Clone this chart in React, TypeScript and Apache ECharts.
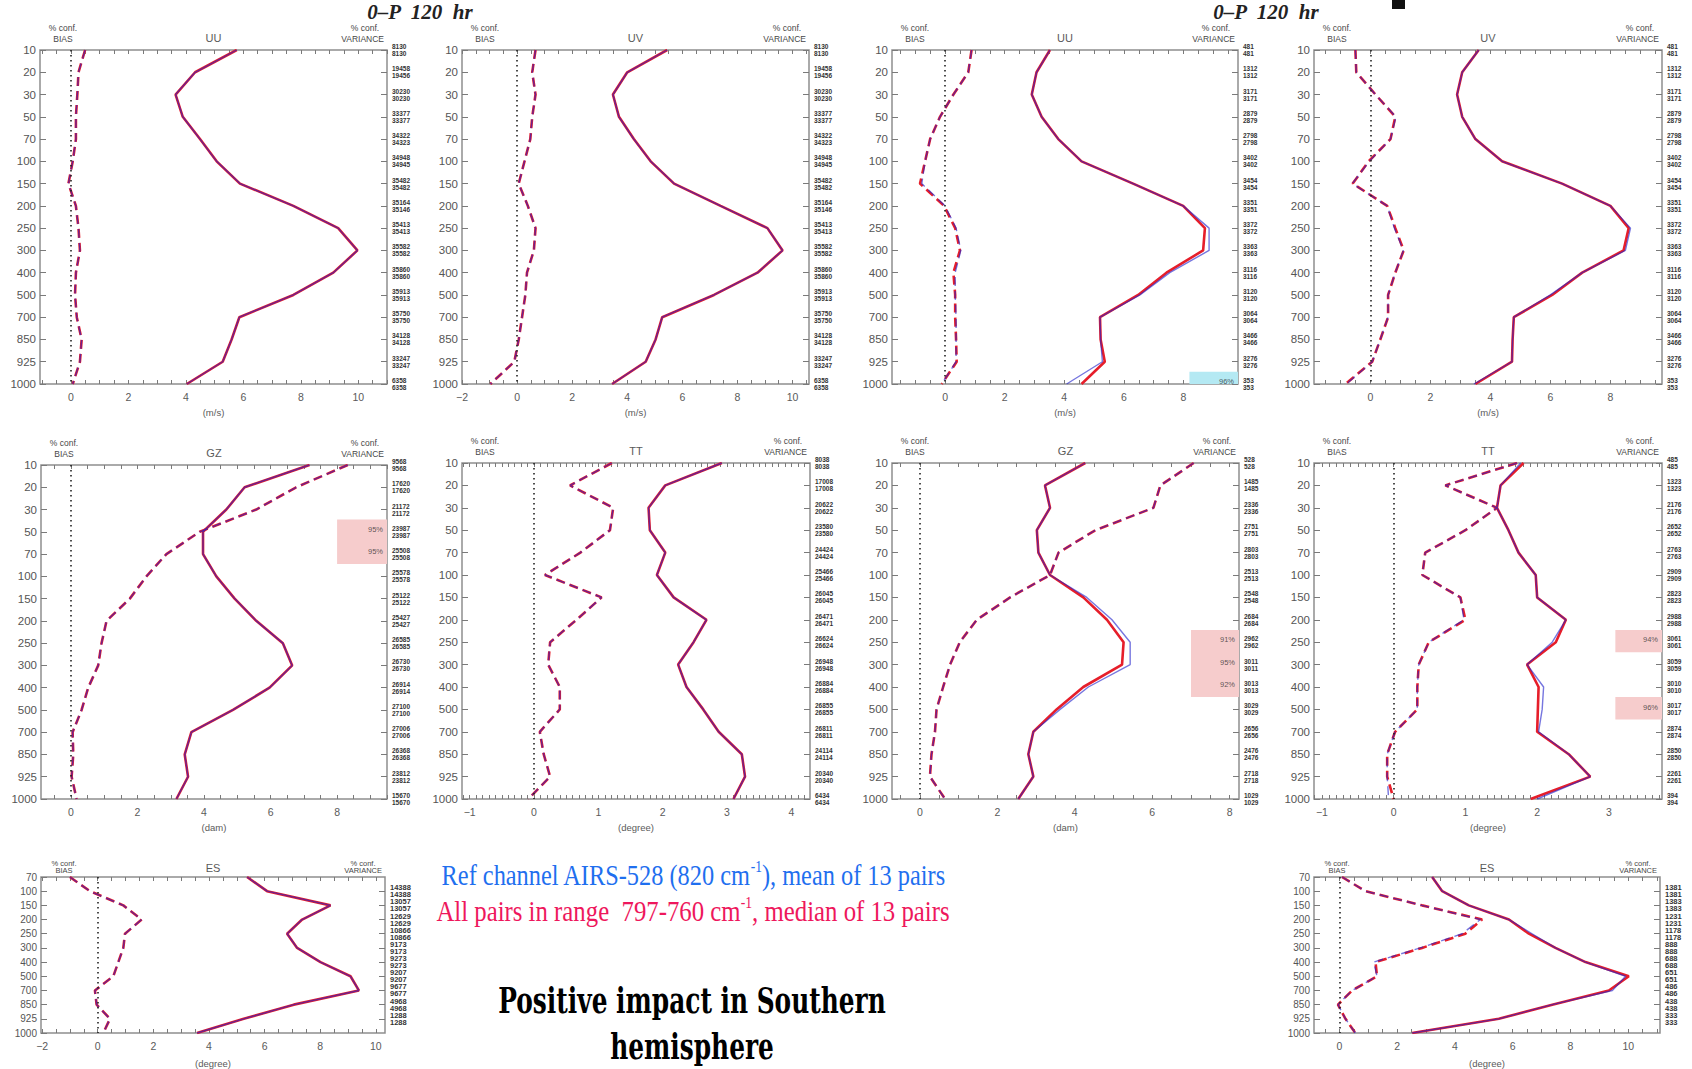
import React, { useEffect, useRef } from 'react';
import * as echarts from 'echarts';

// Pressure levels (hPa), equally spaced on the vertical axis
const LEVELS = ['10', '20', '30', '50', '70', '100', '150', '200', '250', '300', '400', '500', '700', '850', '925', '1000'];
const ES_LEVELS = ['70', '100', '150', '200', '250', '300', '400', '500', '700', '850', '925', '1000'];

// ---- left block (two experiments nearly identical) ----
const uuVarL = [5.77, 4.32, 3.64, 3.89, 4.49, 5.07, 5.88, 7.74, 9.3, 9.97, 9.13, 7.74, 5.86, 5.59, 5.28, 4.03];
const uuBiasL = [0.49, 0.26, 0.22, 0.17, 0.17, 0.06, -0.09, 0.17, 0.26, 0.31, 0.17, 0.14, 0.2, 0.37, 0.31, 0.06];
const uvVarL = [5.45, 4.0, 3.48, 3.7, 4.24, 4.85, 5.7, 7.39, 9.09, 9.64, 8.73, 7.15, 5.27, 5.03, 4.67, 3.45];
const uvBiasL = [0.67, 0.55, 0.67, 0.55, 0.48, 0.27, 0.06, 0.39, 0.67, 0.61, 0.36, 0.3, 0.18, 0.06, -0.1, -0.97];
const gzVarL = [7.17, 5.22, 4.67, 3.97, 3.97, 4.37, 4.92, 5.57, 6.37, 6.65, 5.97, 4.87, 3.62, 3.42, 3.52, 3.17];
const gzBiasL = [8.32, 6.77, 5.57, 3.87, 2.87, 2.27, 1.77, 1.07, 0.92, 0.82, 0.52, 0.32, 0.05, 0.07, 0.02, 0.17];
const ttVarL = [2.92, 2.04, 1.78, 1.8, 2.04, 1.91, 2.17, 2.68, 2.48, 2.24, 2.37, 2.63, 2.87, 3.23, 3.28, 3.1];
const ttBiasL = [1.21, 0.56, 1.23, 1.18, 0.72, 0.17, 1.05, 0.66, 0.25, 0.22, 0.4, 0.4, 0.09, 0.15, 0.25, -0.09];
const esVarL = [5.37, 6.09, 8.37, 7.35, 6.81, 7.17, 8.01, 9.09, 9.39, 7.05, 5.25, 3.57];
const esBiasL = [-1.0, -0.28, 0.92, 1.58, 0.98, 0.92, 0.74, 0.56, -0.1, -0.04, 0.44, 0.2];

// ---- right block: red = all pairs (median), blue = reference channel (mean) ----
const uuVarRRed = [3.52, 3.07, 2.91, 3.24, 3.8, 4.58, 6.31, 7.99, 8.72, 8.66, 7.43, 6.48, 5.2, 5.22, 5.36, 4.58];
const uuVarRBlue = [3.52, 3.07, 2.91, 3.24, 3.8, 4.58, 6.31, 7.99, 8.86, 8.86, 7.54, 6.54, 5.2, 5.22, 5.28, 4.08];
const uuBiasRRed = [0.89, 0.78, 0.28, -0.17, -0.5, -0.67, -0.84, -0.03, 0.34, 0.5, 0.28, 0.34, 0.34, 0.37, 0.39, -0.11];
const uuBiasRBlue = [0.89, 0.78, 0.28, -0.17, -0.5, -0.67, -0.78, 0.0, 0.37, 0.53, 0.34, 0.34, 0.37, 0.37, 0.37, -0.11];
const uvVarRRed = [3.61, 3.06, 2.89, 3.06, 3.5, 4.39, 6.39, 8.0, 8.61, 8.44, 7.06, 6.06, 4.78, 4.74, 4.72, 3.5];
const uvVarRBlue = [3.61, 3.06, 2.89, 3.06, 3.5, 4.39, 6.39, 8.0, 8.67, 8.5, 7.06, 6.0, 4.78, 4.74, 4.72, 3.45];
const uvBiasRRed = [-0.5, -0.47, 0.17, 0.83, 0.67, -0.06, -0.59, 0.56, 0.83, 1.11, 0.83, 0.59, 0.59, 0.33, 0.06, -0.83];
const uvBiasRBlue = [-0.5, -0.47, 0.17, 0.85, 0.67, -0.04, -0.6, 0.56, 0.8, 1.1, 0.83, 0.59, 0.59, 0.33, 0.06, -0.8];
const gzVarRRed = [4.27, 3.23, 3.36, 3.02, 3.06, 3.36, 4.22, 4.83, 5.26, 5.22, 4.22, 3.53, 2.93, 2.8, 2.93, 2.54];
const gzVarRBlue = [4.27, 3.23, 3.36, 3.02, 3.06, 3.36, 4.31, 4.96, 5.43, 5.43, 4.35, 3.62, 2.93, 2.8, 2.93, 2.54];
const gzBiasR = [7.07, 6.21, 6.03, 4.53, 3.58, 3.36, 2.33, 1.47, 1.03, 0.78, 0.6, 0.43, 0.39, 0.3, 0.26, 0.65];
const ttVarRRed = [1.81, 1.49, 1.44, 1.6, 1.74, 1.98, 2.0, 2.4, 2.26, 1.86, 2.02, 2.01, 2.0, 2.44, 2.74, 1.91];
const ttVarRBlue = [1.77, 1.49, 1.44, 1.6, 1.74, 1.98, 2.0, 2.4, 2.21, 1.86, 2.09, 2.07, 2.02, 2.44, 2.74, 2.0];
const ttBiasRRed = [1.72, 0.72, 1.44, 1.0, 0.44, 0.4, 0.93, 1.0, 0.49, 0.35, 0.33, 0.33, 0.02, -0.09, -0.09, 0.0];
const ttBiasRBlue = [1.72, 0.72, 1.44, 1.0, 0.44, 0.4, 0.93, 0.98, 0.49, 0.35, 0.33, 0.33, 0.02, -0.09, -0.09, -0.07];
const esVarRRed = [3.21, 3.56, 4.48, 5.87, 6.56, 7.48, 8.52, 10.02, 9.33, 7.37, 5.52, 2.52];
const esVarRBlue = [3.21, 3.56, 4.48, 5.87, 6.67, 7.48, 8.52, 9.91, 9.45, 7.37, 5.52, 2.52];
const esBiasRRed = [0.09, 0.9, 2.86, 4.94, 4.36, 2.86, 1.25, 1.3, 0.44, -0.05, 0.21, 0.55];
const esBiasRBlue = [0.09, 0.9, 2.86, 4.88, 4.25, 2.8, 1.19, 1.3, 0.44, -0.05, 0.21, 0.55];

// ---- sample counts shown beside each level (two rows per level) ----
const windCountsL = [8130, 19458, 30230, 33377, 34322, 34948, 35482, 35164, 35413, 35582, 35860, 35913, 35750, 34128, 33247, 6358];
const windCountsL2 = [8130, 19456, 30230, 33377, 34323, 34945, 35482, 35146, 35413, 35582, 35860, 35913, 35750, 34128, 33247, 6358];
const windCountsR = [481, 1312, 3171, 2879, 2798, 3402, 3454, 3351, 3372, 3363, 3116, 3120, 3064, 3466, 3276, 353];
const gzCountsL = [9568, 17620, 21172, 23987, 25508, 25578, 25122, 25427, 26585, 26730, 26914, 27100, 27006, 26368, 23812, 15670];
const ttCountsL = [8038, 17008, 20622, 23580, 24424, 25466, 26045, 26471, 26624, 26948, 26884, 26855, 26811, 24114, 20340, 6434];
const gzCountsR = [528, 1485, 2336, 2751, 2803, 2513, 2548, 2684, 2962, 3011, 3013, 3029, 2656, 2476, 2718, 1029];
const ttCountsR = [485, 1323, 2176, 2652, 2763, 2909, 2823, 2988, 3061, 3059, 3010, 3017, 2874, 2850, 2261, 394];
const esCountsL = [11774, 14388, 13057, 12629, 10866, 9173, 9273, 9207, 9677, 4968, 1288, 832];
const esCountsR = [1118, 1381, 1383, 1231, 1178, 888, 688, 651, 486, 438, 333, 61];

// ---- significance of variance differences ----
const uuSigR = [{ level: '1000', text: '96%' }];
const gzSigL = [{ level: '50', text: '95%' }, { level: '70', text: '95%' }];
const gzSigR = [{ level: '250', text: '91%' }, { level: '300', text: '95%' }, { level: '400', text: '92%' }];
const ttSigR = [{ level: '250', text: '94%' }, { level: '500', text: '96%' }];

// ---- tick labels ----
const ticksWind = [0, 2, 4, 6, 8, 10];
const ticksWindNeg = [-2, 0, 2, 4, 6, 8, 10];
const ticksWindR = [0, 2, 4, 6, 8];
const ticksGz = [0, 2, 4, 6, 8];
const ticksTtL = [-1, 0, 1, 2, 3, 4];
const ticksTtR = [-1, 0, 1, 2, 3];
const ticksEsL = [-2, 0, 2, 4, 6, 8, 10];
const ticksEsR = [0, 2, 4, 6, 8, 10];

const SANS = "'Liberation Sans', Arial, Helvetica, sans-serif";
const SERIF = "'Liberation Serif', 'Times New Roman', serif";
const RED = '#e61e2a';
const BLUE = '#2222cc';

type Sig = { level: string; text: string };
type Panel = {
  title: string;
  unit: string;
  levels: string[];
  box: [number, number, number, number];
  xr: [number, number];
  ticks: number[];
  minor: number;
  compact?: boolean;
  countsA: number[];
  countsB: number[];
  varRed: number[];
  varBlue: number[];
  biasRed: number[];
  biasBlue: number[];
  sig?: Sig[];
  sigFrom?: number;
  sigColor?: string;
};

const panels: Panel[] = [
  { title: 'UU', unit: '(m/s)', levels: LEVELS, box: [40, 50, 387, 384], xr: [-1.08, 11.0], ticks: ticksWind, minor: 0.5,
    countsA: windCountsL, countsB: windCountsL2, varRed: uuVarL, varBlue: uuVarL, biasRed: uuBiasL, biasBlue: uuBiasL },
  { title: 'UV', unit: '(m/s)', levels: LEVELS, box: [462, 50, 809, 384], xr: [-2.0, 10.6], ticks: ticksWindNeg, minor: 0.5,
    countsA: windCountsL, countsB: windCountsL2, varRed: uvVarL, varBlue: uvVarL, biasRed: uvBiasL, biasBlue: uvBiasL },
  { title: 'UU', unit: '(m/s)', levels: LEVELS, box: [892, 50, 1238, 384], xr: [-1.78, 9.83], ticks: ticksWindR, minor: 0.5,
    countsA: windCountsR, countsB: windCountsR, varRed: uuVarRRed, varBlue: uuVarRBlue, biasRed: uuBiasRRed, biasBlue: uuBiasRBlue,
    sig: uuSigR, sigFrom: 8.2, sigColor: '#b4e9f3' },
  { title: 'UV', unit: '(m/s)', levels: LEVELS, box: [1314, 50, 1662, 384], xr: [-1.88, 9.72], ticks: ticksWindR, minor: 0.5,
    countsA: windCountsR, countsB: windCountsR, varRed: uvVarRRed, varBlue: uvVarRBlue, biasRed: uvBiasRRed, biasBlue: uvBiasRBlue },
  { title: 'GZ', unit: '(dam)', levels: LEVELS, box: [41, 465, 387, 799], xr: [-0.9, 9.5], ticks: ticksGz, minor: 0.5,
    countsA: gzCountsL, countsB: gzCountsL, varRed: gzVarL, varBlue: gzVarL, biasRed: gzBiasL, biasBlue: gzBiasL,
    sig: gzSigL, sigFrom: 8.0, sigColor: '#f6cccc' },
  { title: 'TT', unit: '(degree)', levels: LEVELS, box: [462, 463, 810, 799], xr: [-1.12, 4.29], ticks: ticksTtL, minor: 0.1,
    countsA: ttCountsL, countsB: ttCountsL, varRed: ttVarL, varBlue: ttVarL, biasRed: ttBiasL, biasBlue: ttBiasL },
  { title: 'GZ', unit: '(dam)', levels: LEVELS, box: [892, 463, 1239, 799], xr: [-0.72, 8.24], ticks: ticksGz, minor: 0.5,
    countsA: gzCountsR, countsB: gzCountsR, varRed: gzVarRRed, varBlue: gzVarRBlue, biasRed: gzBiasR, biasBlue: gzBiasR,
    sig: gzSigR, sigFrom: 7.0, sigColor: '#f6cccc' },
  { title: 'TT', unit: '(degree)', levels: LEVELS, box: [1314, 463, 1662, 799], xr: [-1.11, 3.74], ticks: ticksTtR, minor: 0.1,
    countsA: ttCountsR, countsB: ttCountsR, varRed: ttVarRRed, varBlue: ttVarRBlue, biasRed: ttBiasRRed, biasBlue: ttBiasRBlue,
    sig: ttSigR, sigFrom: 3.09, sigColor: '#f6cccc' },
  { title: 'ES', unit: '(degree)', levels: ES_LEVELS, box: [41, 877, 385, 1036], xr: [-2.04, 10.33], ticks: ticksEsL, minor: 0.5, compact: true,
    countsA: esCountsL, countsB: esCountsL, varRed: esVarL, varBlue: esVarL, biasRed: esBiasL, biasBlue: esBiasL },
  { title: 'ES', unit: '(degree)', levels: ES_LEVELS, box: [1314, 877, 1660, 1036], xr: [-0.88, 11.1], ticks: ticksEsR, minor: 0.5, compact: true,
    countsA: esCountsR, countsB: esCountsR, varRed: esVarRRed, varBlue: esVarRBlue, biasRed: esBiasRRed, biasBlue: esBiasRBlue },
];

// tick positions every `step` inside the axis range
function minorTicks(min: number, max: number, step: number) {
  const out: number[] = [];
  for (let k = Math.ceil(min / step); k * step <= max + 1e-9; k++) out.push(+(k * step).toFixed(4));
  return out;
}

// consecutive significant levels share one shaded box
function sigBoxes(p: Panel) {
  const idx = (p.sig || []).map((s) => p.levels.indexOf(s.level)).sort((a, b) => a - b);
  const groups: [number, number][] = [];
  idx.forEach((i) => {
    const g = groups[groups.length - 1];
    if (g && i === g[1] + 1) g[1] = i;
    else groups.push([i, i]);
  });
  const last = p.levels.length - 1;
  return groups.map(([a, b]) => [
    { xAxis: p.sigFrom, yAxis: a - 0.55 },
    { xAxis: p.xr[1], yAxis: Math.min(b + 0.45, last) },
  ]);
}

function label(text: string, x: number, y: number, align: string, size: number, extra: any = {}) {
  return {
    type: 'text', x, y, silent: true,
    style: {
      text, fill: '#474747', font: `${size}px ${SANS}`,
      align, verticalAlign: 'middle', textAlign: align, textVerticalAlign: 'middle', ...extra,
    },
  };
}

function buildOption() {
  const grid: any[] = [];
  const xAxis: any[] = [];
  const yAxis: any[] = [];
  const series: any[] = [];
  const graphic: any[] = [];

  panels.forEach((p, i) => {
    const [l, t, r, b] = p.box;
    const n = p.levels.length;
    const minors = minorTicks(p.xr[0], p.xr[1], p.minor);
    grid.push({ left: l, top: t, width: r - l, height: b - t, show: true, borderColor: '#8e8e8e', borderWidth: 1.5 });

    const tickStyle = { color: '#7a7a7a', width: 1 };
    xAxis.push({
      gridIndex: i, type: 'value', position: 'bottom', min: p.xr[0], max: p.xr[1],
      axisLine: { show: false, onZero: false }, splitLine: { show: false },
      axisTick: { inside: true, length: 4, customValues: minors, lineStyle: tickStyle },
      axisLabel: { customValues: p.ticks, color: '#5a5a5a', fontSize: 10.5, fontFamily: SANS, margin: 7,
        formatter: (v: number) => (v < 0 ? '\u2212' + Math.abs(v) : String(v)) },
      name: p.unit, nameLocation: 'middle', nameGap: p.compact ? 25 : 23,
      nameTextStyle: { color: '#5a5a5a', fontSize: 9.5, fontFamily: SANS },
    });
    xAxis.push({
      gridIndex: i, type: 'value', position: 'top', min: p.xr[0], max: p.xr[1],
      axisLine: { show: false, onZero: false }, splitLine: { show: false }, axisLabel: { show: false },
      axisTick: { inside: true, length: 4, customValues: minors, lineStyle: tickStyle },
    });
    yAxis.push({
      gridIndex: i, type: 'value', position: 'left', min: 0, max: n - 1, interval: 1, inverse: true,
      axisLine: { show: false, onZero: false }, splitLine: { show: false },
      axisTick: { inside: true, length: 6, lineStyle: tickStyle },
      axisLabel: { color: '#555', fontSize: p.compact ? 10 : 11.5, fontFamily: SANS, margin: 4,
        formatter: (v: number) => p.levels[Math.round(v)] ?? '' },
    });
    yAxis.push({
      gridIndex: i, type: 'value', position: 'right', min: 0, max: n - 1, interval: 1, inverse: true,
      axisLine: { show: false, onZero: false }, splitLine: { show: false },
      axisTick: { inside: true, length: 6, lineStyle: tickStyle },
      axisLabel: { color: '#333', fontSize: p.compact ? 7.5 : 6.5, fontFamily: SANS, fontWeight: 'bold', margin: 5,
        lineHeight: 7, padding: [0, 0, 7, 0], align: 'left',
        formatter: (v: number) => {
          const k = Math.round(v);
          return `${p.countsA[k]}\n${p.countsB[k]}`;
        } },
    });

    const xa = 2 * i;
    const ya = 2 * i;
    const pts = (arr: number[]) => arr.map((v, k) => [v, k]);
    const base = { type: 'line', xAxisIndex: xa, yAxisIndex: ya, symbol: 'none', silent: true, animation: false };

    // red drawn wide underneath, blue narrower on top so the pair reads as a dark core with red fringe
    series.push({
      ...base, name: `var-red-${i}`, data: pts(p.varRed), lineStyle: { color: RED, width: 2.6 }, z: 3,
    });
    series.push({
      ...base, name: `var-blue-${i}`, data: pts(p.varBlue), lineStyle: { color: BLUE, width: 1.4, opacity: 0.62 }, z: 4,
    });
    series.push({
      ...base, name: `bias-red-${i}`, data: pts(p.biasRed), lineStyle: { color: RED, width: 2.6, type: [9, 5] }, z: 3,
      markLine: {
        silent: true, symbol: 'none', label: { show: false }, animation: false,
        lineStyle: { color: '#222', width: 1.6, type: [1.6, 3.4] },
        data: [{ xAxis: 0 }],
      },
    });
    series.push({
      ...base, name: `bias-blue-${i}`, data: pts(p.biasBlue), lineStyle: { color: BLUE, width: 1.4, type: [9, 5], opacity: 0.62 }, z: 4,
    });

    if (p.sig) {
      series.push({
        type: 'scatter', xAxisIndex: xa, yAxisIndex: ya, symbolSize: 0, silent: true, z: 2,
        data: p.sig.map((s) => [p.xr[1], p.levels.indexOf(s.level) - 0.1, s.text]),
        label: { show: true, position: 'left', distance: 4, color: '#333', fontSize: 7.5, fontFamily: SANS,
          formatter: (q: any) => q.data[2] },
        markArea: { silent: true, itemStyle: { color: p.sigColor }, data: sigBoxes(p) },
      });
    }

    // panel headers
    const y1 = p.compact ? t - 14 : t - 22;
    const y2 = p.compact ? t - 7 : t - 11;
    const fs = p.compact ? 7.5 : 8.5;
    graphic.push(label('% conf.', l + 23, y1, 'center', fs));
    graphic.push(label('BIAS', l + 23, y2, 'center', fs));
    graphic.push(label(p.title, (l + r) / 2, p.compact ? t - 9 : t - 12, 'center', 11, { fill: '#5a5a5a' }));
    graphic.push(label('% conf.', r - 22, y1, 'center', fs));
    graphic.push(label('VARIANCE', r - 3, y2, 'right', fs));
  });

  // forecast-range headings
  const heading = (x: number) => ({
    type: 'text', x, y: 12, silent: true, z: 10,
    style: { text: '0\u2013P  120  hr', font: `italic bold 21px ${SERIF}`, fill: '#222',
      align: 'center', verticalAlign: 'middle', textAlign: 'center', textVerticalAlign: 'middle' },
  });
  graphic.push(heading(420));
  graphic.push(heading(1266));
  graphic.push({ type: 'rect', shape: { x: 1392, y: 0, width: 13, height: 9 }, style: { fill: '#111' }, silent: true });

  // legend lines with superscripts
  const legendLine = (y: number, color: string, sx: number, before: string, after: string) => ({
    type: 'text', x: 693, y, scaleX: sx, silent: true,
    style: {
      text: `{m|${before}}{s|-1}{m|${after}}`,
      align: 'center', verticalAlign: 'middle', textAlign: 'center', textVerticalAlign: 'middle',
      rich: {
        m: { fontSize: 29, fontFamily: SERIF, fill: color, lineHeight: 32 },
        s: { fontSize: 16, fontFamily: SERIF, fill: color, verticalAlign: 'top', lineHeight: 32 },
      },
    },
  });
  graphic.push(legendLine(875, '#1f6fef', 0.84, 'Ref channel AIRS-528 (820 cm', '), mean of 13 pairs'));
  graphic.push(legendLine(911, '#ee175c', 0.855, 'All pairs in range  797-760 cm', ', median of 13 pairs'));

  const bold = (text: string, y: number) => ({
    type: 'text', x: 692, y, scaleX: 0.71, silent: true,
    style: { text, font: `bold 35px 'DejaVu Serif', serif`, fill: '#000',
      align: 'center', verticalAlign: 'middle', textAlign: 'center', textVerticalAlign: 'middle' },
  });
  graphic.push(bold('Positive impact in Southern', 1001));
  graphic.push(bold('hemisphere', 1047));

  return { animation: false, backgroundColor: '#ffffff', grid, xAxis, yAxis, series, graphic };
}

export default function App() {
  const ref = useRef<HTMLDivElement>(null);
  useEffect(() => {
    if (!ref.current) return;
    const chart = echarts.init(ref.current, undefined, { renderer: 'svg' });
    chart.setOption(buildOption() as any);
    return () => chart.dispose();
  }, []);
  return (
    <div
      ref={ref}
      style={{ position: 'fixed', left: 0, top: 0, width: 1692, height: 1069, background: '#fff' }}
    />
  );
}
